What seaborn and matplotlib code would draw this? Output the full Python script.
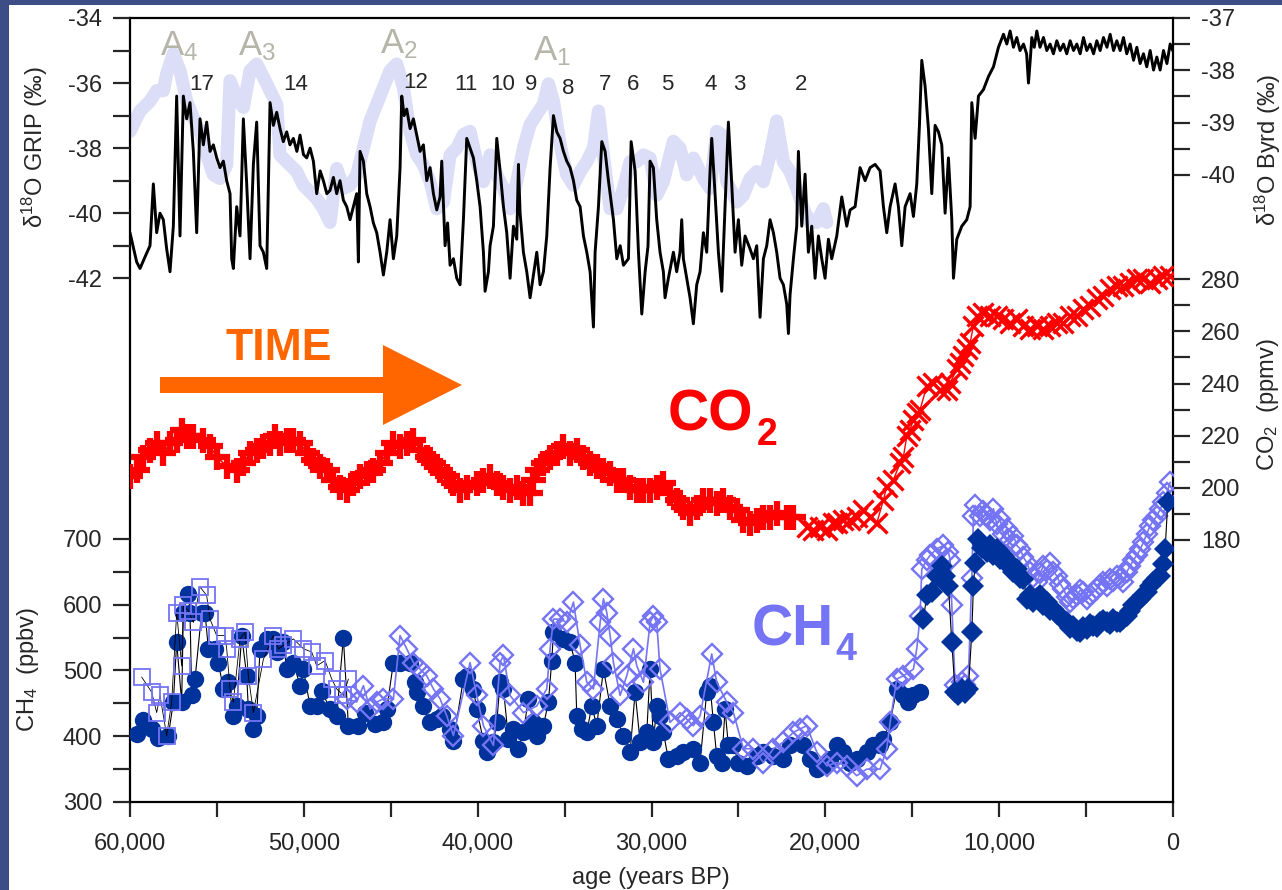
#!/usr/bin/env python3
"""Ice-core records of the last 60,000 years: GRIP / Byrd d18O, CO2 and CH4."""

import matplotlib

matplotlib.use("Agg")

import matplotlib.pyplot as plt
import matplotlib.ticker as mticker
from matplotlib.patches import Polygon, Rectangle
import seaborn as sns

# ── Data (age in years BP) ───────────────────────────────────────────────

GRIP_D18O = [
    (60000, -40.6), (59616, -41.5), (59425, -41.7), (59100, -41.3), (58849, -41.0), (58657, -39.1),
    (58466, -40.6), (58274, -40.0), (58082, -40.2), (57890, -41.1), (57698, -41.8), (57507, -40.4),
    (57315, -36.4), (57123, -40.7), (56931, -36.4), (56739, -37.1), (56548, -36.6), (56356, -38.1),
    (56164, -40.6), (55972, -37.1), (55780, -37.9), (55589, -37.2), (55397, -38.1), (55205, -37.9),
    (55013, -38.3), (54821, -38.6), (54630, -38.4), (54438, -39.0), (54246, -39.4), (54150, -41.4),
    (54054, -41.7), (53862, -39.8), (53671, -40.7), (53479, -37.1), (53287, -39.1), (53095, -41.4),
    (52903, -38.5), (52712, -37.2), (52520, -41.0), (52328, -41.2), (52136, -41.7), (51944, -36.6),
    (51753, -37.3), (51561, -36.9), (51369, -37.4), (51180, -37.8), (50985, -37.5), (50800, -37.9),
    (50602, -37.7), (50400, -38.1), (50218, -37.6), (50020, -38.2), (49835, -38.3), (49640, -38.0),
    (49451, -38.4), (49259, -39.4), (49060, -38.7), (48876, -39.0), (48680, -39.4), (48492, -39.3),
    (48300, -38.9), (48108, -39.4), (47920, -39.0), (47725, -39.6), (47533, -39.8), (47341, -40.2),
    (47150, -39.8), (46958, -39.4), (46862, -41.5), (46766, -38.1), (46574, -38.4), (46382, -39.4),
    (46190, -39.8), (46000, -40.3), (45807, -40.6), (45615, -41.2), (45423, -41.9), (45231, -41.2),
    (45040, -40.2), (44848, -41.4), (44656, -40.7), (44464, -38.6), (44368, -36.4), (44230, -37.0),
    (44081, -36.8), (43889, -37.4), (43697, -37.1), (43505, -37.6), (43313, -38.1), (43122, -37.9),
    (42930, -39.0), (42738, -38.6), (42546, -39.4), (42354, -39.9), (42163, -39.5), (42067, -38.4),
    (41875, -41.0), (41730, -40.3), (41587, -41.6), (41395, -41.4), (41204, -42.0), (41012, -42.2),
    (40820, -40.2), (40628, -37.7), (40436, -38.0), (40245, -38.3), (40053, -39.0), (39861, -39.8),
    (39669, -41.2), (39573, -42.4), (39381, -41.8), (39286, -41.0), (39094, -40.4), (38902, -37.7),
    (38710, -38.7), (38518, -39.8), (38327, -40.6), (38135, -42.0), (37943, -40.4), (37751, -40.8),
    (37655, -38.5), (37559, -40.0), (37368, -41.2), (37176, -41.8), (36984, -42.6), (36792, -41.9),
    (36600, -41.2), (36409, -42.2), (36217, -41.8), (36025, -40.7), (35833, -38.6), (35641, -37.0),
    (35450, -37.5), (35258, -37.7), (35066, -38.1), (34874, -38.4), (34682, -38.6), (34491, -39.0),
    (34299, -39.6), (34107, -39.8), (33915, -40.7), (33723, -41.2), (33532, -41.8), (33340, -43.5),
    (33244, -41.2), (33052, -39.8), (32860, -37.8), (32669, -38.1), (32477, -39.0), (32189, -40.2),
    (31997, -41.4), (31800, -41.0), (31614, -41.6), (31326, -41.4), (31172, -37.8), (30942, -38.7),
    (30750, -41.2), (30559, -43.1), (30367, -41.8), (30200, -41.0), (30084, -38.4), (29892, -38.6),
    (29700, -40.2), (29509, -41.2), (29317, -41.8), (29221, -42.6), (29029, -42.0), (28741, -41.2),
    (28550, -41.8), (28358, -41.2), (28262, -40.2), (28166, -41.4), (27974, -42.0), (27782, -42.6),
    (27591, -43.4), (27399, -42.2), (27207, -41.8), (27015, -40.6), (26823, -41.2), (26632, -38.7),
    (26536, -37.7), (26344, -39.4), (26152, -41.2), (25960, -42.4), (25769, -39.8), (25577, -37.2),
    (25385, -39.1), (25193, -41.2), (25001, -40.2), (24810, -41.6), (24618, -40.7), (24330, -41.1),
    (24138, -41.4), (23946, -41.0), (23755, -43.2), (23563, -41.4), (23371, -41.0), (23179, -40.2),
    (22987, -40.6), (22796, -41.2), (22604, -42.0), (22412, -42.2), (22220, -42.8), (22124, -43.7),
    (22028, -42.5), (21837, -41.4), (21645, -40.4), (21549, -38.1), (21357, -40.4), (21165, -38.8),
    (20974, -41.2), (20782, -40.4), (20590, -42.0), (20398, -40.7), (20206, -41.4), (20015, -42.0),
    (19823, -40.8), (19631, -41.4), (19343, -40.7), (19055, -39.5), (18768, -40.4), (18576, -39.9),
    (18288, -39.8), (18001, -38.6), (17713, -39.0), (17425, -38.6), (17138, -38.5), (16850, -38.7),
    (16658, -39.8), (16466, -40.6), (16274, -39.8), (15987, -39.1), (15795, -39.8), (15603, -41.0),
    (15411, -39.8), (15124, -39.4), (14932, -40.1), (14740, -39.1), (14587, -37.3), (14452, -35.3),
    (14261, -36.1), (14069, -37.4), (13877, -39.4), (13685, -37.3), (13493, -37.5), (13302, -37.9),
    (13110, -40.0), (12918, -38.3), (12726, -40.2), (12630, -42.0), (12438, -40.8), (12151, -40.4),
    (11863, -40.2), (11671, -39.8), (11575, -36.6), (11384, -37.7), (11192, -36.4), (10904, -36.2),
    (10616, -35.8), (10329, -35.5), (10041, -34.9), (9753, -34.5), (9560, -34.8), (9370, -34.4),
    (9180, -34.9), (8986, -34.6), (8800, -35.0), (8602, -34.8), (8420, -35.1), (8314, -36.0),
    (8200, -35.2), (8123, -34.6), (7980, -34.9), (7835, -34.4), (7650, -34.9), (7452, -34.6),
    (7260, -35.0), (7068, -34.8), (6880, -35.1), (6684, -34.7), (6490, -35.0), (6301, -34.8),
    (6110, -35.1), (5917, -34.7), (5720, -35.0), (5534, -34.8), (5340, -35.1), (5150, -34.6),
    (4960, -35.0), (4766, -34.8), (4570, -35.1), (4383, -34.7), (4190, -35.0), (3999, -34.6),
    (3800, -34.9), (3616, -34.5), (3420, -35.0), (3232, -34.7), (3040, -35.0), (2848, -34.6),
    (2660, -35.1), (2465, -34.8), (2270, -35.3), (2081, -34.9), (1890, -35.4), (1698, -35.1),
    (1510, -35.5), (1314, -35.0), (1120, -35.6), (930, -35.2), (740, -35.6), (547, -35.0),
    (350, -35.4), (163, -34.8), (20, -35.0),
]

BYRD_D18O = [
    (60000, -39.17), (59425, -38.78), (58849, -38.59), (58466, -38.39), (58082, -38.39), (57890, -38.07),
    (57507, -37.68), (57123, -38.01), (56739, -38.59), (56356, -38.91), (55972, -39.17), (55589, -39.62),
    (55205, -40.00), (54821, -40.07), (54438, -39.81), (54246, -38.20), (53862, -38.52), (53479, -38.71),
    (53095, -38.01), (52712, -37.88), (52328, -38.13), (51944, -38.39), (51561, -38.65), (51369, -39.62),
    (50985, -39.75), (50410, -39.94), (50026, -40.20), (49643, -40.33), (49259, -40.46), (48876, -40.65),
    (48492, -40.91), (48108, -39.88), (47725, -40.26), (47341, -40.20), (46958, -40.00), (46574, -39.49),
    (46190, -38.97), (45807, -38.65), (45423, -38.33), (45040, -38.01), (44656, -37.88), (44272, -38.33),
    (43889, -39.17), (43505, -39.62), (43122, -39.81), (42738, -40.13), (42354, -40.65), (41971, -40.52),
    (41587, -39.62), (41204, -39.49), (40820, -39.23), (40436, -39.17), (40053, -39.75), (39669, -40.13),
    (39286, -39.62), (38902, -40.00), (38518, -40.26), (38135, -40.65), (37751, -40.13), (37368, -39.49),
    (36984, -39.04), (36600, -38.84), (36217, -38.65), (35929, -38.26), (35641, -38.59), (35258, -39.42),
    (34874, -40.00), (34491, -40.20), (34107, -39.94), (33723, -39.75), (33340, -39.49), (33052, -38.78),
    (32764, -39.62), (32380, -40.65), (31997, -40.65), (31614, -40.26), (31230, -39.75), (30846, -39.75),
    (30463, -39.62), (30084, -39.68), (29700, -40.39), (29317, -40.13), (28741, -39.36), (28358, -39.49),
    (27974, -40.00), (27591, -39.68), (27015, -40.07), (26632, -40.26), (26248, -39.17), (25960, -39.23),
    (25673, -40.13), (25097, -40.52), (24714, -40.39), (24330, -40.07), (23946, -39.94), (23563, -40.13),
    (23179, -39.62), (22796, -38.97), (22412, -39.75), (22028, -39.94), (21645, -40.26), (21261, -40.65),
    (20878, -40.91), (20494, -40.91), (20110, -40.65), (19919, -40.91),
]

CO2_BYRD = [
    (60000, 204.4), (59616, 206.9), (59233, 212.0), (58849, 214.6), (58466, 217.2), (58082, 213.3),
    (57698, 217.2), (57315, 218.5), (57027, 222.3), (56739, 219.7), (56356, 219.7), (55780, 218.5),
    (55397, 215.9), (55013, 212.0), (54438, 208.2), (53862, 206.9), (53479, 209.5), (53095, 213.3),
    (52712, 214.6), (52328, 215.9), (51944, 217.2), (51657, 219.7), (51369, 217.2), (50985, 218.5),
    (50602, 218.5), (50218, 217.2), (49835, 213.3), (49451, 210.8), (49067, 208.2), (48684, 206.9),
    (48300, 203.1), (47917, 200.5), (47533, 199.2), (47149, 201.8), (46766, 204.4), (46382, 205.6),
    (45999, 206.9), (45615, 209.5), (45231, 213.3), (44848, 217.2), (44464, 215.9), (44081, 217.2),
    (43697, 218.5), (43313, 214.6), (42930, 212.0), (42546, 209.5), (42163, 206.9), (41779, 204.4),
    (41395, 201.8), (41012, 199.2), (40628, 200.5), (40053, 201.8), (39669, 203.1), (39286, 204.4),
    (38902, 201.8), (38518, 200.5), (38135, 199.2), (37751, 200.5), (37368, 198.0), (36984, 198.0),
    (36792, 203.1), (36600, 206.9), (36217, 209.5), (35833, 212.0), (35450, 213.3), (35066, 215.9),
    (34682, 213.3), (34299, 214.6), (33915, 212.0), (33532, 209.5), (33148, 208.2), (32764, 206.9),
    (32380, 205.6), (31997, 203.1), (31614, 203.1), (31230, 200.5), (30846, 199.2), (30463, 199.2),
    (30084, 199.2), (29700, 200.5), (29317, 201.8), (28933, 198.0), (28550, 195.4), (28166, 192.8),
    (27782, 190.3), (27399, 192.8), (27015, 195.4), (26632, 195.4), (26248, 194.1), (25864, 195.4),
    (25481, 192.8), (25097, 191.5), (24714, 187.7), (24330, 186.4), (23946, 187.7), (23563, 189.0),
    (23179, 189.0), (22796, 190.3), (22220, 189.0), (21837, 189.0),
]

CO2_DOMEC = [
    (21069, 185.1), (20686, 183.8), (20302, 185.1), (19919, 183.8), (19535, 186.4), (19343, 186.4),
    (18960, 187.7), (18576, 187.7), (18192, 189.0), (17809, 191.5), (17425, 189.0), (17042, 186.4),
    (16658, 195.4), (16466, 200.5), (16083, 203.1), (15699, 209.5), (15507, 212.0), (15315, 219.7),
    (15124, 222.3), (14932, 226.2), (14740, 228.7), (14548, 230.0), (14165, 239.0), (13781, 240.3),
    (13398, 237.7), (13014, 237.7), (12822, 240.3), (12438, 245.4), (12247, 248.0), (12055, 250.5),
    (11863, 253.1), (11671, 255.6), (11482, 262.0), (11291, 265.9), (10907, 267.2), (10524, 265.9),
    (10140, 265.9), (9756, 264.6), (9373, 263.3), (8989, 264.6), (8605, 262.0), (8222, 260.8),
    (7838, 262.0), (7455, 260.8), (7071, 262.0), (6687, 263.3), (6304, 263.3), (5920, 265.9),
    (5537, 265.9), (5153, 268.5), (4769, 269.8), (4386, 272.3), (4002, 273.6), (3619, 276.2),
    (3235, 277.4), (2851, 277.4), (2468, 278.7), (2084, 280.0), (1701, 280.0), (1317, 278.7),
    (933, 280.0), (550, 281.3), (166, 281.3),
]

CH4_GRIP = [
    (59616, 403), (59233, 424), (58753, 411), (58370, 398), (57794, 401), (57507, 452), (57315, 543),
    (57027, 452), (56931, 588), (56643, 616), (56548, 588), (56452, 462), (56260, 487), (55876, 588),
    (55685, 588), (55493, 533), (55109, 533), (54917, 512), (54630, 472), (54342, 482), (54054, 431),
    (53862, 446), (53575, 553), (53287, 492), (53191, 441), (52903, 411), (52712, 431), (52520, 533),
    (52136, 548), (51753, 548), (51561, 528), (51177, 543), (50985, 502), (50602, 512), (50218, 477),
    (50026, 502), (49643, 446), (49259, 446), (48972, 469), (48492, 441), (48108, 431), (47725, 550),
    (47437, 416), (46862, 416), (46478, 436), (45903, 419), (45423, 421), (45231, 441), (44848, 512),
    (44464, 512), (43889, 512), (43601, 482), (43505, 467), (43122, 446), (42738, 421), (42354, 426),
    (42067, 431), (41587, 411), (41395, 393), (40820, 487), (40628, 492), (40245, 472), (40053, 441),
    (39669, 393), (39477, 376), (39094, 391), (38902, 421), (38710, 482), (38518, 472), (38230, 396),
    (37943, 411), (37655, 381), (37368, 406), (37080, 457), (36792, 421), (36600, 401), (36217, 416),
    (35929, 452), (35737, 515), (35641, 558), (35066, 548), (34682, 543), (34395, 512), (34299, 431),
    (34011, 411), (33723, 406), (33436, 446), (33148, 416), (32764, 502), (32380, 446), (31997, 426),
    (31614, 401), (31230, 376), (30942, 467), (30654, 391), (30271, 406), (30079, 502), (29892, 391),
    (29700, 446), (29509, 431), (29317, 406), (29029, 365), (28550, 370), (28166, 376), (27591, 381),
    (27207, 360), (26823, 467), (26632, 477), (26440, 421), (26248, 370), (25960, 360), (25769, 441),
    (25577, 386), (25289, 386), (25001, 360), (24522, 355), (23946, 370), (23563, 376), (22987, 370),
    (22412, 365), (22028, 386), (21261, 386), (20878, 365), (20494, 350), (20110, 355), (19727, 365),
    (19343, 386), (18960, 376), (18576, 360), (18192, 365), (17617, 376), (17234, 386), (16850, 386),
    (16658, 396), (16274, 421), (15891, 472), (15507, 462), (15220, 452), (14932, 462), (14548, 467),
]

CH4_GRIP_OPEN = [
    (59329, 490), (58753, 467), (58466, 436), (58274, 462), (57890, 401), (57602, 452), (57315, 588),
    (57027, 507), (56931, 599), (56643, 591), (56356, 573), (55972, 627), (55589, 614), (55397, 578),
    (55013, 553), (54534, 553), (54438, 533), (54246, 472), (54054, 452), (53671, 548), (53383, 558),
    (53191, 492), (52903, 436), (52328, 517), (51753, 553), (51465, 533), (51177, 538), (50602, 548),
    (50026, 533), (49547, 528), (49259, 507), (48780, 515), (48396, 487), (48108, 472), (47725, 462),
    (47437, 487),
]

CH4_BYRD_OPEN = [
    (47533, 457), (46958, 452), (46574, 477), (46190, 441), (45807, 452), (45423, 457), (44848, 457),
    (44464, 553), (44081, 533), (43697, 512), (43313, 502), (42930, 492), (42546, 472), (42163, 457),
    (41779, 431), (41395, 401), (40436, 512), (40053, 462), (39669, 416), (39094, 386), (38710, 512),
    (38518, 523), (38135, 462), (37368, 436), (36600, 446), (36025, 472), (35833, 533), (35641, 578),
    (35258, 578), (34874, 573), (34491, 604), (34107, 538), (33723, 482), (33340, 472), (32956, 573),
    (32764, 609), (32572, 588), (32380, 553), (32189, 512), (31805, 462), (31422, 492), (31038, 533),
    (30846, 507), (30463, 482), (30079, 573), (29892, 583), (29700, 573), (29509, 502), (28933, 421),
    (28358, 436), (27974, 426), (27591, 416), (27207, 431), (26536, 525), (26248, 482), (25673, 452),
    (25289, 436), (24714, 381), (24138, 381), (23563, 360), (22987, 381), (22412, 391), (21837, 406),
    (21453, 411), (21069, 416), (20494, 376), (19919, 355), (19343, 360), (18768, 355), (18192, 340),
    (17617, 350), (16850, 350), (16466, 381), (16274, 421), (15891, 487), (15507, 492), (14932, 502),
    (14740, 533), (14548, 583), (14452, 654), (14165, 668), (13973, 675), (13590, 685), (13206, 690),
    (12918, 680), (12822, 668), (12726, 600), (12534, 478), (12342, 470), (12151, 482), (11959, 478),
    (11767, 492), (11575, 640), (11479, 735), (11384, 751), (11096, 735), (10904, 742), (10712, 735),
    (10520, 728), (10329, 746), (10137, 722), (9945, 730), (9753, 708), (9561, 715), (9370, 698),
    (9178, 705), (8986, 690), (8794, 685), (8602, 672), (8410, 664), (8218, 650), (8027, 642),
    (7835, 634), (7643, 648), (7452, 659), (7260, 652), (7068, 664), (6876, 650), (6684, 644),
    (6493, 632), (6301, 624), (6109, 612), (5917, 604), (5725, 610), (5534, 614), (5342, 622),
    (5150, 619), (4958, 608), (4766, 614), (4575, 620), (4383, 624), (4191, 630), (3999, 634),
    (3808, 628), (3616, 639), (3424, 636), (3232, 644), (3040, 640), (2848, 634), (2657, 650),
    (2465, 659), (2273, 668), (2081, 675), (1890, 684), (1698, 695), (1506, 708), (1314, 720),
    (1123, 728), (930, 735), (739, 745), (547, 756), (355, 770), (163, 786),
]

CH4_BYRD = [
    (14357, 578), (14165, 614), (13877, 619), (13590, 644), (13302, 659), (13110, 644), (12918, 629),
    (12726, 543), (12534, 467), (12342, 462), (12151, 472), (11959, 466), (11767, 472), (11575, 558),
    (11479, 629), (11384, 664), (11192, 700), (11000, 686), (10904, 690), (10712, 680), (10520, 690),
    (10329, 676), (10137, 685), (9945, 670), (9753, 675), (9561, 662), (9370, 664), (9178, 650),
    (8986, 654), (8794, 640), (8602, 639), (8410, 609), (8218, 614), (8027, 604), (7835, 610),
    (7643, 614), (7452, 600), (7260, 604), (7068, 592), (6876, 594), (6684, 586), (6493, 583),
    (6301, 576), (6109, 573), (5917, 564), (5725, 568), (5534, 560), (5342, 558), (5150, 566),
    (4958, 563), (4766, 570), (4575, 568), (4383, 566), (4191, 573), (3999, 576), (3808, 573),
    (3616, 570), (3424, 578), (3232, 574), (3040, 573), (2848, 578), (2657, 583), (2465, 590),
    (2273, 599), (2081, 604), (1890, 609), (1698, 614), (1506, 619), (1314, 628), (1123, 634),
    (930, 640), (739, 644), (547, 662), (451, 685), (300, 756),
]

# ── Layout / style ────────────────────────────────────────────────────────

W, H = 1282, 890
RECT = [130 / W, 1 - 802 / H, 1043 / W, 784 / H]

GRIP_LIM = (-58.1, -34.0)
BYRD_LIM = (-52.0, -37.0)
CO2_LIM = (79.5, 380.2)
CH4_LIM = (300, 1492)

DARK_BLUE = "#00329c"
LIGHT_BLUE = "#7474f4"
BAND = "#dcddf6"
RED = "#ff0000"
ORANGE = "#ff6600"
A_GREY = "#b5b5aa"
FRAME_BLUE = "#3d4d86"

TICK_KW = dict(direction="out", length=12, width=1.6, labelsize=17, pad=8)


def fx(x):
    return x / W


def fy(y):
    return 1 - y / H


def split(pairs):
    ages = [p[0] for p in pairs]
    vals = [p[1] for p in pairs]
    return ages, vals


def style_y(ax, side, lim, major, minor):
    ax.set_ylim(*lim)
    ax.yaxis.set_major_locator(mticker.FixedLocator(major))
    ax.yaxis.set_minor_locator(mticker.FixedLocator(minor))
    left = side == "left"
    ax.tick_params(axis="y", which="both", left=left, labelleft=left,
                   right=not left, labelright=not left, **TICK_KW)


def line(ax, pairs, **kw):
    ages, vals = split(pairs)
    kw.setdefault("markeredgewidth", 0)
    kw.setdefault("markeredgecolor", "none")
    sns.lineplot(x=ages, y=vals, ax=ax, sort=False, estimator=None, legend=False, **kw)


# ── Plot ──────────────────────────────────────────────────────────────────

sns.set_style("ticks")
plt.rcParams["font.family"] = ["Liberation Sans", "DejaVu Sans"]
plt.rcParams["mathtext.fontset"] = "custom"
plt.rcParams["mathtext.rm"] = "Liberation Sans"
plt.rcParams["mathtext.it"] = "Liberation Sans:italic"
plt.rcParams["mathtext.bf"] = "Liberation Sans:bold"
plt.rcParams["mathtext.default"] = "regular"
plt.rcParams["axes.unicode_minus"] = False

fig = plt.figure(figsize=(W / 100, H / 100), dpi=100)
fig.patch.set_facecolor("white")

ax_byrd = fig.add_axes(RECT, label="byrd")
ax_grip = fig.add_axes(RECT, label="grip", sharex=ax_byrd)
ax_co2 = fig.add_axes(RECT, label="co2", sharex=ax_byrd)
ax_ch4 = fig.add_axes(RECT, label="ch4", sharex=ax_byrd)

for ax in (ax_grip, ax_co2, ax_ch4):
    ax.patch.set_visible(False)
    for s in ax.spines.values():
        s.set_visible(False)
    ax.xaxis.set_visible(False)
for s in ax_byrd.spines.values():
    s.set_linewidth(1.6)
    s.set_color("black")

# d18O records
line(ax_byrd, BYRD_D18O, color=BAND, linewidth=9.5, solid_joinstyle="round")
line(ax_grip, GRIP_D18O, color="black", linewidth=2.1)

# CO2
line(ax_co2, CO2_BYRD, color=RED, linewidth=1.2, marker="+", markersize=18,
     markeredgewidth=4.5, markeredgecolor=RED)
line(ax_co2, CO2_DOMEC, color=RED, linewidth=1.0, marker="x", markersize=14,
     markeredgewidth=2.4, markeredgecolor=RED)

# CH4
line(ax_ch4, CH4_GRIP, color="black", linewidth=0.8, marker="o", markersize=12.5,
     markerfacecolor=DARK_BLUE)
line(ax_ch4, CH4_GRIP_OPEN, color="black", linewidth=0.6, marker="s", markersize=11,
     markerfacecolor="none", markeredgecolor=LIGHT_BLUE, markeredgewidth=1.3)
line(ax_ch4, CH4_BYRD_OPEN, color=LIGHT_BLUE, linewidth=1.2, marker="D", markersize=10.5,
     markerfacecolor="none", markeredgecolor=LIGHT_BLUE, markeredgewidth=1.7)
line(ax_ch4, CH4_BYRD, color="black", linewidth=0.8, marker="D", markersize=11,
     markerfacecolor=DARK_BLUE)

# axes
ax_byrd.set_xlim(60000, 0)
ax_byrd.xaxis.set_major_locator(mticker.MultipleLocator(10000))
ax_byrd.xaxis.set_minor_locator(mticker.MultipleLocator(5000))
ax_byrd.xaxis.set_major_formatter(mticker.FuncFormatter(lambda v, p: f"{int(round(v)):,}"))
ax_byrd.tick_params(axis="x", which="both", bottom=True, top=False, direction="out",
                    length=11, width=1.6, labelsize=17, pad=11)

style_y(ax_grip, "left", GRIP_LIM, [-42, -40, -38, -36, -34], [-41, -39, -37, -35])
style_y(ax_ch4, "left", CH4_LIM, [300, 400, 500, 600, 700], [350, 450, 550, 650])
style_y(ax_byrd, "right", BYRD_LIM, [-40, -39, -38, -37], [-39.5, -38.5, -37.5])
style_y(ax_co2, "right", CO2_LIM, [180, 200, 220, 240, 260, 280], [190, 210, 230, 250, 270])
for ax in (ax_grip, ax_co2, ax_ch4, ax_byrd):
    ax.set_xlabel("")
    ax.set_ylabel("")

# axis titles
fig.text(fx(35), fy(147), "δ$^{18}$O GRIP (‰)", rotation=90, ha="center", va="center", fontsize=17)
fig.text(fx(28), fy(670), "CH$_4$  (ppbv)", rotation=90, ha="center", va="center", fontsize=17)
fig.text(fx(1268), fy(150), "δ$^{18}$O Byrd (‰)", rotation=90, ha="center", va="center", fontsize=17)
fig.text(fx(1268), fy(405), "CO$_2$  (ppmv)", rotation=90, ha="center", va="center", fontsize=17)
fig.text(fx(651), fy(878), "age (years BP)", ha="center", va="center", fontsize=17)

# Antarctic warm events and DO interstadial numbers
for label, x, y in [("A$_4$", 160, 55), ("A$_3$", 238, 55), ("A$_2$", 380, 53), ("A$_1$", 533, 60)]:
    fig.text(fx(x), fy(y), label, color=A_GREY, fontsize=25, ha="left", va="baseline")
for label, x, y in [("17", 202, 85), ("14", 296, 85), ("12", 416, 82), ("11", 466, 84),
                    ("10", 503, 84), ("9", 531, 84), ("8", 568, 88), ("7", 605, 84),
                    ("6", 633, 84), ("5", 667, 84), ("4", 711, 84), ("3", 739, 84), ("2", 801, 84)]:
    fig.text(fx(x), fy(y), label, fontsize=16, ha="center", va="center")

# big series labels
fig.text(fx(668), fy(430), "CO", color=RED, fontsize=41, fontweight="bold", ha="left", va="baseline")
fig.text(fx(757), fy(445), "2", color=RED, fontsize=27, fontweight="bold", ha="left", va="baseline")
fig.text(fx(752), fy(645), "CH", color=LIGHT_BLUE, fontsize=41, fontweight="bold", ha="left", va="baseline")
fig.text(fx(835), fy(660), "4", color=LIGHT_BLUE, fontsize=27, fontweight="bold", ha="left", va="baseline")

# TIME arrow
fig.text(fx(279), fy(349), "TIME", color=ORANGE, fontsize=32, fontweight="bold", ha="center", va="center")
arrow_px = [(160, 377), (383, 377), (383, 345), (462, 385), (383, 425), (383, 393), (160, 393)]
fig.add_artist(Polygon([(fx(x), fy(y)) for x, y in arrow_px], closed=True,
                       transform=fig.transFigure, facecolor=ORANGE, edgecolor="none"))

# slide frame
fig.add_artist(Rectangle((0, 0), 9 / W, 1, transform=fig.transFigure, facecolor=FRAME_BLUE,
                         edgecolor="none"))
fig.add_artist(Rectangle((0, 1 - 5 / H), 1, 5 / H, transform=fig.transFigure, facecolor=FRAME_BLUE,
                         edgecolor="none"))

fig.savefig("out.png", dpi=100)
plt.close(fig)
